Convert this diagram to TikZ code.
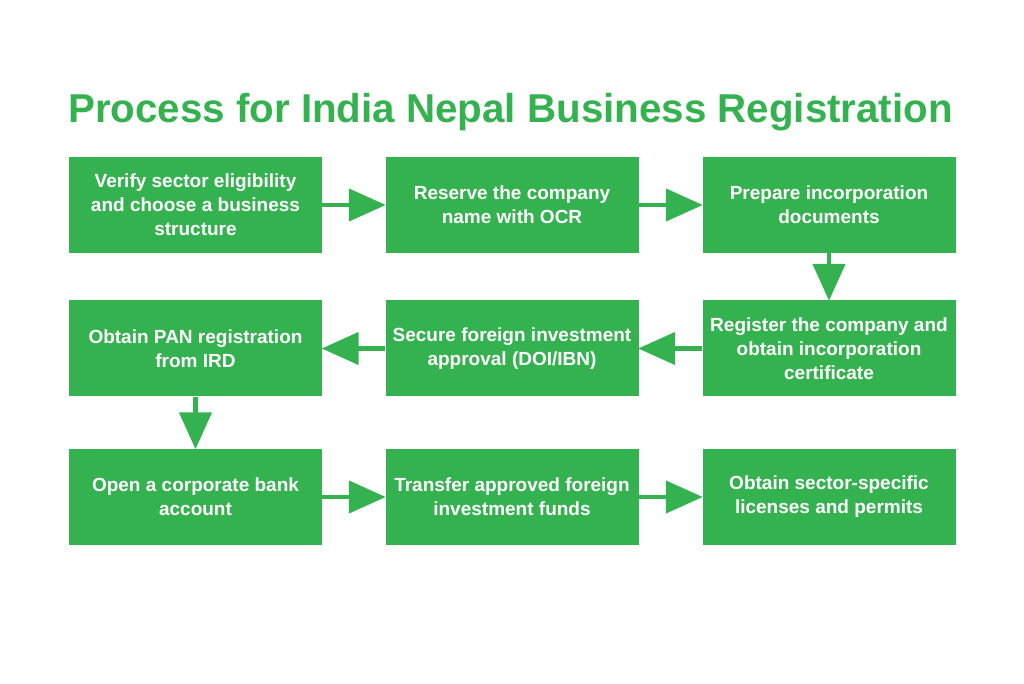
\documentclass[tikz,border=0pt]{standalone}
\usepackage{fontspec}
\setmainfont{Liberation Sans}
\usetikzlibrary{arrows.meta}
\definecolor{procgreen}{RGB}{52,178,79}
\tikzset{
  stepbox/.style={fill=procgreen, minimum width=253pt, minimum height=96pt,
    align=center, text=white, font=\bfseries\fontsize{19}{24}\selectfont},
  flow/.style={procgreen, line width=4.5pt, -{Triangle[length=37pt,width=32pt]}, shorten >=-0.5pt}
}
\begin{document}
\begin{tikzpicture}[x=1pt,y=1pt]
\useasboundingbox (0,0) rectangle (1024,683);
% title
\node[text=procgreen, font=\bfseries\fontsize{40.3}{48}\selectfont] (title) at (510.5,571) {Process for India Nepal Business Registration};
% first row
\node[stepbox] (verify) at (195.5,478) {Verify sector eligibility\\and choose a business\\structure};
\node[stepbox] (reserve) at (512,478) {Reserve the company\\name with OCR};
\node[stepbox] (prepare) at (829,478) {Prepare incorporation\\documents};
% second row
\node[stepbox] (pan) at (195.5,334.5) {Obtain PAN registration\\from IRD};
\node[stepbox] (approval) at (512,334.5) {Secure foreign investment\\approval (DOI/IBN)};
\node[stepbox] (register) at (829,334.5) {Register the company and\\obtain incorporation\\certificate};
% third row
\node[stepbox] (bank) at (195.5,186) {Open a corporate bank\\account};
\node[stepbox] (funds) at (512,186) {Transfer approved foreign\\investment funds};
\node[stepbox] (licenses) at (829,186) {Obtain sector-specific\\licenses and permits};
% arrows
\draw[flow] (verify) -- (reserve);
\draw[flow] (reserve) -- (prepare);
\draw[flow] (prepare) -- (register);
\draw[flow] (register) -- (approval);
\draw[flow] (approval) -- (pan);
\draw[flow] (pan) -- (bank);
\draw[flow] (bank) -- (funds);
\draw[flow] (funds) -- (licenses);
\end{tikzpicture}
\end{document}
